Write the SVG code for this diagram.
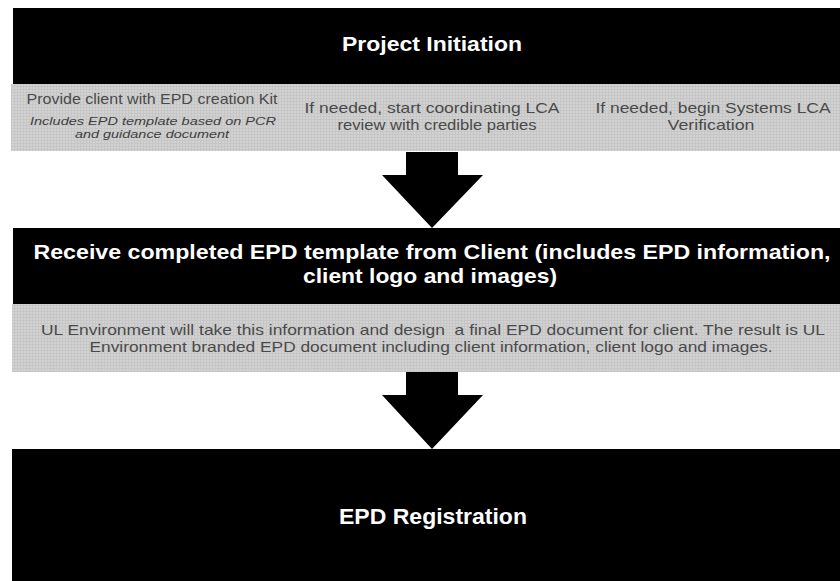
<svg xmlns="http://www.w3.org/2000/svg" width="840" height="581" viewBox="0 0 840 581">
  <defs>
    <pattern id="dots" width="3" height="3" patternUnits="userSpaceOnUse">
      <rect width="3" height="3" fill="#c6c6c6"/>
      <rect width="2" height="2" fill="#d2d2d2"/>
    </pattern>
    <style>
      .black { fill: #000000; }
      .gray { fill: url(#dots); }
      .head { font-family: "Liberation Sans", Arial, sans-serif; font-weight: bold; fill: #ffffff; text-anchor: middle; }
      .body { font-family: "Liberation Sans", Arial, sans-serif; fill: #4a4a4a; text-anchor: middle; }
      .note { font-family: "Liberation Sans", Arial, sans-serif; font-style: italic; fill: #3f3f3f; text-anchor: middle; }
      .arrow { fill: #000000; }
    </style>
  </defs>
  <rect width="840" height="581" fill="#ffffff"/>

  <g id="project-initiation">
    <rect class="black" x="13" y="8" width="827" height="76"/>
    <text class="head" x="432" y="51" font-size="20" textLength="180" lengthAdjust="spacingAndGlyphs">Project Initiation</text>
  </g>

  <g id="provide-kit">
    <rect class="gray" x="11" y="84" width="281" height="67"/>
    <text class="body" x="152" y="104" font-size="15" textLength="251" lengthAdjust="spacingAndGlyphs">Provide client with EPD creation Kit</text>
    <text class="note" x="153" y="125" font-size="11" textLength="246" lengthAdjust="spacingAndGlyphs">Includes EPD template based on PCR</text>
    <text class="note" x="152" y="138" font-size="11" textLength="154" lengthAdjust="spacingAndGlyphs">and guidance document</text>
  </g>

  <g id="lca-review">
    <rect class="gray" x="292" y="84" width="276" height="67"/>
    <text class="body" x="432" y="113" font-size="15" textLength="255" lengthAdjust="spacingAndGlyphs">If needed, start coordinating LCA</text>
    <text class="body" x="437" y="130" font-size="15" textLength="199" lengthAdjust="spacingAndGlyphs">review with credible parties</text>
  </g>

  <g id="lca-verification">
    <rect class="gray" x="568" y="84" width="272" height="67"/>
    <text class="body" x="713" y="113" font-size="15" textLength="235" lengthAdjust="spacingAndGlyphs">If needed, begin Systems LCA</text>
    <text class="body" x="711" y="130" font-size="15" textLength="87" lengthAdjust="spacingAndGlyphs">Verification</text>
  </g>

  <g id="receive-template">
    <rect class="black" x="13" y="228" width="827" height="76"/>
    <text class="head" x="432" y="259" font-size="21" textLength="797" lengthAdjust="spacingAndGlyphs">Receive completed EPD template from Client (includes EPD information,</text>
    <text class="head" x="430" y="283" font-size="21" textLength="254" lengthAdjust="spacingAndGlyphs">client logo and images)</text>
  </g>

  <g id="design-document">
    <rect class="gray" x="12" y="304" width="828" height="68"/>
    <text class="body" x="433" y="335" font-size="15" textLength="784" lengthAdjust="spacingAndGlyphs" xml:space="preserve">UL Environment will take this information and design  a final EPD document for client. The result is UL</text>
    <text class="body" x="431" y="352" font-size="15" textLength="683" lengthAdjust="spacingAndGlyphs">Environment branded EPD document including client information, client logo and images.</text>
  </g>

  <g id="epd-registration">
    <rect class="black" x="12" y="449" width="828" height="132"/>
    <text class="head" x="433" y="524" font-size="22" textLength="188" lengthAdjust="spacingAndGlyphs">EPD Registration</text>
  </g>

  <g id="connectors">
    <polygon class="arrow" points="406,152 458,152 458,175 483,175 432,228 382,175 406,175"/>
    <polygon class="arrow" points="406,372 458,372 458,395 483,395 432,449 382,395 406,395"/>
  </g>
</svg>
